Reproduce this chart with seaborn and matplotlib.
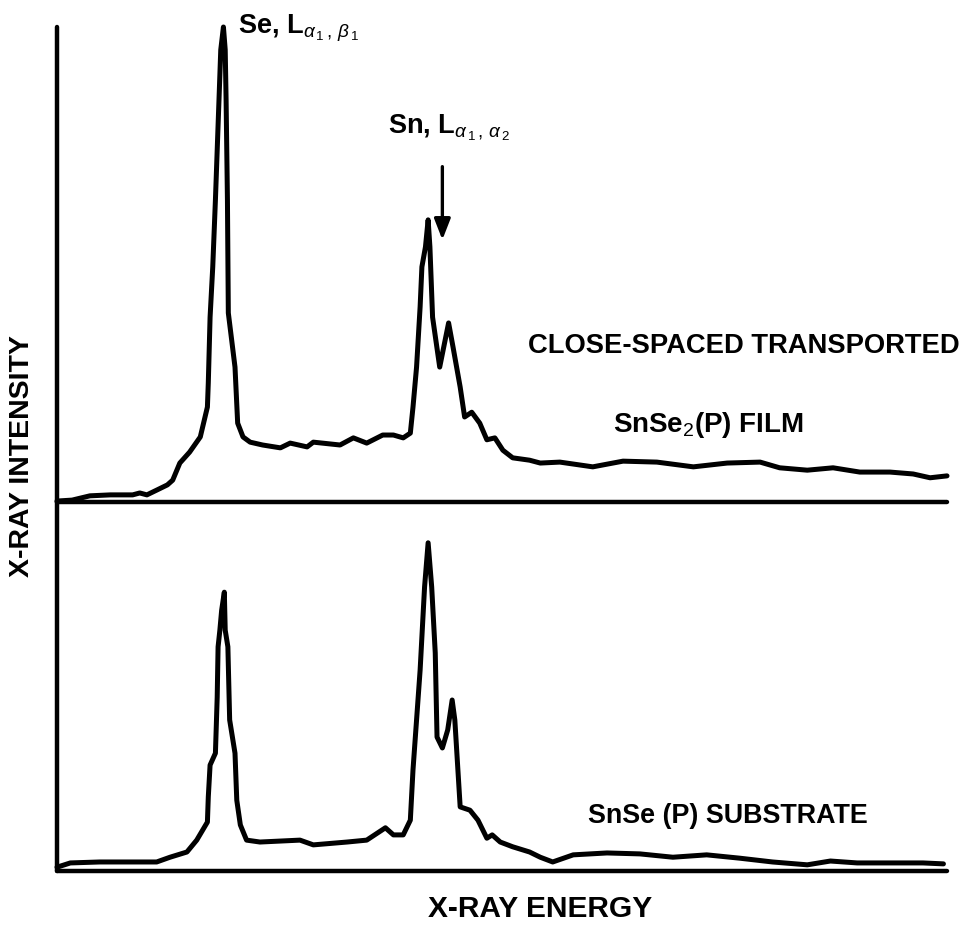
import matplotlib
matplotlib.use("Agg")
import matplotlib.pyplot as plt
import seaborn as sns
import pandas as pd

# ---------------- data (arbitrary units) ----------------
film_energy = [0.0, 1.7, 3.7, 6.0, 8.5, 9.3, 10.1, 11.2, 12.4, 13.0, 13.8, 14.9,
               16.1, 16.9, 17.0, 17.2, 17.5, 17.8, 18.2, 18.4, 18.7, 18.9, 19.0,
               19.15, 19.25, 20.0, 20.3, 20.9, 21.7, 23.1, 25.1, 26.2, 28.1, 28.8,
               31.8, 33.3, 34.8, 36.6, 37.8, 38.9, 39.7, 40.0, 40.4, 40.8, 41.0,
               41.4, 41.7, 41.9, 42.2, 43.0, 44.0, 44.5, 45.3, 45.8, 46.6, 47.5,
               48.3, 49.2, 50.1, 51.2, 53.1, 54.3, 56.5, 60.2, 63.6, 67.4, 71.5,
               75.3, 79.0, 81.2, 84.3, 87.2, 90.2, 93.6, 96.2, 98.1, 100.0]
film_intensity = [0.2, 0.4, 1.3, 1.5, 1.5, 1.9, 1.5, 2.5, 3.6, 4.6, 8.2, 10.5,
                  13.7, 20.0, 25.1, 38.9, 49.5, 63.6, 84.6, 95.2, 100.0, 95.2, 84.6,
                  63.6, 39.8, 28.4, 16.6, 13.7, 12.6, 12.0, 11.4, 12.4, 11.6, 12.6,
                  12.0, 13.5, 12.4, 14.1, 14.1, 13.5, 14.5, 20.0, 28.4, 41.1, 49.5,
                  53.7, 59.4, 53.7, 38.9, 28.4, 37.7, 32.6, 24.2, 17.9, 18.9, 16.6,
                  13.1, 13.5, 10.9, 9.3, 8.8, 8.2, 8.4, 7.4, 8.6, 8.4, 7.4,
                  8.2, 8.4, 7.2, 6.7, 7.2, 6.3, 6.3, 5.9, 5.1, 5.5]

sub_energy = [0.0, 1.5, 4.8, 7.9, 11.2, 12.7, 14.6, 15.7, 16.9, 17.0, 17.2, 17.8,
              18.0, 18.1, 18.3, 18.5, 18.8, 18.9, 19.2, 19.4, 20.0, 20.2, 20.6,
              21.3, 22.8, 27.3, 28.8, 32.6, 34.8, 36.9, 37.8, 38.9, 39.7, 40.0,
              40.8, 41.3, 41.7, 42.1, 42.5, 42.7, 43.3, 43.9, 44.4, 44.7, 45.3,
              46.4, 47.3, 48.3, 48.9, 49.8, 51.2, 53.1, 54.3, 55.7, 58.0, 61.8,
              65.5, 69.2, 73.0, 76.7, 80.4, 84.3, 86.9, 89.9, 93.6, 97.3, 99.6]
sub_intensity = [0.8, 1.7, 1.9, 1.9, 1.9, 2.9, 4.0, 6.5, 10.3, 15.6, 22.3, 24.8,
                 36.6, 47.2, 50.7, 54.9, 58.7, 50.7, 47.2, 31.8, 24.8, 14.9, 9.7,
                 6.5, 6.1, 6.5, 5.5, 6.1, 6.5, 9.1, 7.6, 7.6, 10.7, 21.3,
                 42.3, 59.8, 69.1, 59.8, 45.9, 28.2, 25.9, 29.7, 36.0, 31.8, 13.5,
                 12.8, 10.7, 6.9, 7.6, 6.1, 5.1, 4.0, 2.9, 1.9, 3.4, 3.8,
                 3.6, 2.9, 3.4, 2.7, 1.9, 1.3, 2.1, 1.7, 1.7, 1.7, 1.5]

se_label = r"Se, L$_{\alpha_{\,1}\,,\,\beta_{\,1}}$"
sn_label = r"Sn, L$_{\alpha_{\,1}\,,\,\alpha_{\,2}}$"
method_label = "CLOSE-SPACED TRANSPORTED"
film_label = r"SnSe$_2$(P) FILM"
sub_label = "SnSe (P) SUBSTRATE"
x_label = "X-RAY ENERGY"
y_label = "X-RAY INTENSITY"

# ---------------- styling ----------------
sns.set_style("white")
plt.rcParams["font.family"] = ["Liberation Sans", "DejaVu Sans"]
plt.rcParams["mathtext.fontset"] = "custom"
plt.rcParams["mathtext.rm"] = "Liberation Sans"
plt.rcParams["mathtext.it"] = "Liberation Sans:italic"
plt.rcParams["mathtext.bf"] = "Liberation Sans:bold"

LW = 3.6
fig = plt.figure(figsize=(9.66, 9.25), dpi=100)
W, H = 966, 925

def rect(x0, y0, x1, y1):
    return [x0 / W, 1 - y1 / H, (x1 - x0) / W, (y1 - y0) / H]

ax_top = fig.add_axes(rect(57, 27, 947, 502))
ax_bot = fig.add_axes(rect(57, 502, 947, 871))

film_df = pd.DataFrame({"energy": film_energy, "intensity": film_intensity})
sub_df = pd.DataFrame({"energy": sub_energy, "intensity": sub_intensity})

sns.lineplot(data=film_df, x="energy", y="intensity", ax=ax_top, color="black",
             linewidth=LW, estimator=None, sort=False)
sns.lineplot(data=sub_df, x="energy", y="intensity", ax=ax_bot, color="black",
             linewidth=LW, estimator=None, sort=False)

ax_top.set_xlim(0, 100)
ax_top.set_ylim(0, 100)
ax_bot.set_xlim(0, 100)
ax_bot.set_ylim(0, 369 / 4.75)

for ax in (ax_top, ax_bot):
    for ln in ax.lines:
        ln.set_clip_on(False)
        ln.set_solid_joinstyle("round")
        ln.set_solid_capstyle("round")
    ax.set_xticks([])
    ax.set_yticks([])
    ax.set_xlabel("")
    ax.set_ylabel("")
    ax.patch.set_alpha(0)
    for s in ("top", "right"):
        ax.spines[s].set_visible(False)
    for s in ("left", "bottom"):
        ax.spines[s].set_color("black")
        ax.spines[s].set_linewidth(3.2)
        ax.spines[s].set_capstyle("round")

# arrow marking Sn L alpha
ax_top.annotate("", xy=(43.3, 55.2), xytext=(43.3, 70.6),
                arrowprops=dict(arrowstyle="-|>,head_length=0.9,head_width=0.35",
                                lw=2.4, color="black", shrinkA=0, shrinkB=0,
                                mutation_scale=14),
                annotation_clip=False)

def ftext(x, y, s, **kw):
    fig.text(x / W, 1 - y / H, s, color="black", fontweight="bold", **kw)

ftext(238, 33, se_label, fontsize=19.5, va="baseline", ha="left")
ftext(388, 133, sn_label, fontsize=19.5, va="baseline", ha="left")
ftext(528, 353, method_label, fontsize=19.7, va="baseline", ha="left")
ftext(613, 432, film_label, fontsize=20, va="baseline", ha="left")
ftext(588, 823, sub_label, fontsize=19.4, va="baseline", ha="left")
ftext(540, 917, x_label, fontsize=21.5, va="baseline", ha="center")
ftext(22, 456, y_label, fontsize=20.5, va="center", ha="center", rotation=90)

fig.savefig("out.png", dpi=100, facecolor="white")
